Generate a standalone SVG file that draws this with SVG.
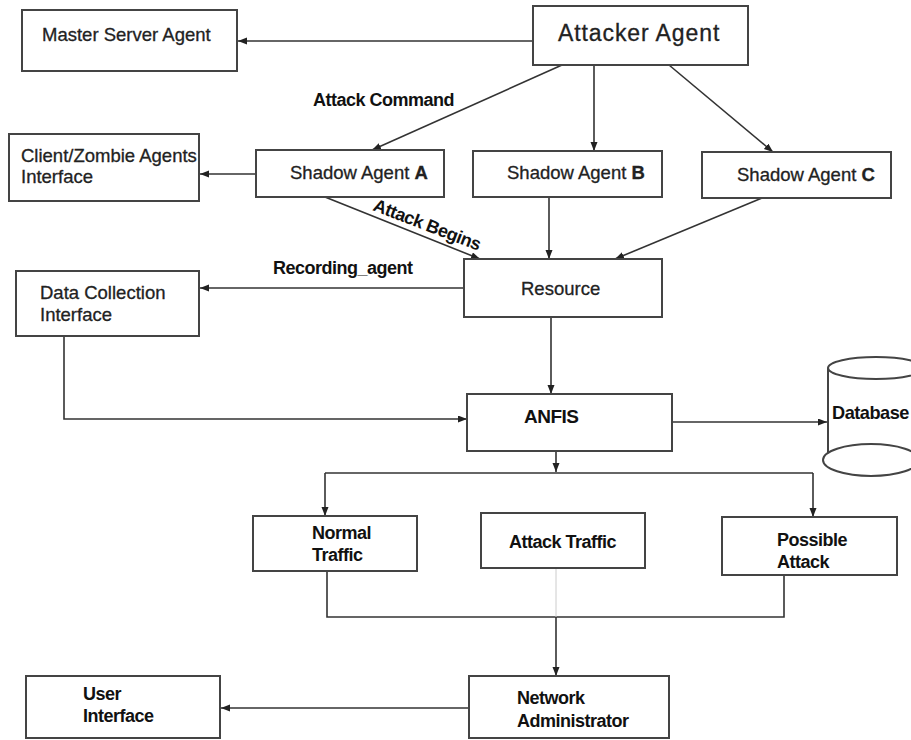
<svg xmlns="http://www.w3.org/2000/svg" width="911" height="740" viewBox="0 0 911 740">
<defs>
<marker id="ah" markerUnits="userSpaceOnUse" markerWidth="10" markerHeight="8" refX="9" refY="3.5" orient="auto">
<path d="M0,0 L9,3.5 L0,7 Z" fill="#222"/>
</marker>
<style>
.box{fill:#fff;stroke:#444;stroke-width:2}
.ln{fill:none;stroke:#333;stroke-width:1.6}
.ar{fill:none;stroke:#333;stroke-width:1.6;marker-end:url(#ah)}
.t{font-family:"Liberation Sans",Arial,sans-serif;font-size:18.5px;fill:#222;stroke:#222;stroke-width:0.3}
.b{font-family:"Liberation Sans",Arial,sans-serif;font-size:18px;font-weight:bold;letter-spacing:-0.5px;fill:#111}
</style>
</defs>
<rect width="911" height="740" fill="#fff"/>

<g id="connectors">
<path class="ar" d="M533,41 H238"/>
<path class="ar" d="M562,65 L372,150"/>
<path class="ar" d="M594,65 V151"/>
<path class="ar" d="M669,65 L773,152"/>
<path class="ar" d="M256,174 H200"/>
<path class="ar" d="M325,197 L480,259"/>
<path class="ar" d="M549,197 V259"/>
<path class="ar" d="M762,198 L615,259"/>
<path class="ar" d="M464,288 H200"/>
<path class="ar" d="M64,336 V419 H467"/>
<path class="ar" d="M551,317 V394"/>
<path class="ar" d="M672,422 H827"/>
<path class="ar" d="M556,451 V472"/>
<path class="ln" d="M325,473 H813"/>
<path class="ar" d="M325,473 V516"/>
<path class="ar" d="M813,473 V517"/>
<path class="ln" d="M327,571 V617 H784 V575"/>
<path d="M556,568 V617" fill="none" stroke="#ccc" stroke-width="1"/>
<path class="ar" d="M556,617 V676"/>
<path class="ar" d="M469,708 H221"/>
<text class="b" x="313" y="106">Attack Command</text>
<text class="b" x="372" y="210" transform="rotate(21 372 210)">Attack Begins</text>
<text class="b" x="273" y="274">Recording_agent</text>
</g>

<g id="master">
<rect class="box" x="22" y="10" width="215" height="61"/>
<text class="t" x="42" y="41">Master Server Agent</text>
</g>
<g id="attacker">
<rect class="box" x="533" y="6" width="215" height="59"/>
<text class="t" x="558" y="41" style="font-size:23px;letter-spacing:0.9px">Attacker Agent</text>
</g>
<g id="client">
<rect class="box" x="9" y="134" width="190" height="67"/>
<text class="t" x="21" y="162">Client/Zombie Agents</text>
<text class="t" x="21" y="183">Interface</text>
</g>
<g id="shadowA">
<rect class="box" x="256" y="150" width="188" height="47"/>
<text class="t" x="290" y="179">Shadow Agent <tspan font-weight="bold">A</tspan></text>
</g>
<g id="shadowB">
<rect class="box" x="473" y="151" width="189" height="46"/>
<text class="t" x="507" y="179">Shadow Agent <tspan font-weight="bold">B</tspan></text>
</g>
<g id="shadowC">
<rect class="box" x="702" y="152" width="189" height="46"/>
<text class="t" x="737" y="181">Shadow Agent <tspan font-weight="bold">C</tspan></text>
</g>
<g id="resource">
<rect class="box" x="464" y="259" width="198" height="58"/>
<text class="t" x="521" y="295">Resource</text>
</g>
<g id="datacollection">
<rect class="box" x="16" y="271" width="183" height="65"/>
<text class="t" x="40" y="299">Data Collection</text>
<text class="t" x="40" y="321">Interface</text>
</g>
<g id="anfis">
<rect class="box" x="467" y="394" width="205" height="57"/>
<text class="b" x="524" y="423" style="font-size:19px">ANFIS</text>
</g>
<g id="database">
<path class="box" d="M828,368 V455"/>
<ellipse class="box" cx="876" cy="368" rx="48" ry="11"/>
<ellipse class="box" cx="871" cy="460" rx="48" ry="16"/>
<text class="b" x="832" y="419" style="font-size:19px" textLength="77" lengthAdjust="spacingAndGlyphs">Database</text>
</g>
<g id="normal">
<rect class="box" x="253" y="516" width="164" height="55"/>
<text class="b" x="312" y="539">Normal</text>
<text class="b" x="312" y="561">Traffic</text>
</g>
<g id="attacktraffic">
<rect class="box" x="481" y="513" width="164" height="55"/>
<text class="b" x="509" y="548">Attack Traffic</text>
</g>
<g id="possible">
<rect class="box" x="722" y="517" width="175" height="58"/>
<text class="b" x="777" y="546">Possible</text>
<text class="b" x="777" y="568">Attack</text>
</g>
<g id="netadmin">
<rect class="box" x="469" y="676" width="200" height="62"/>
<text class="b" x="517" y="704">Network</text>
<text class="b" x="517" y="727">Administrator</text>
</g>
<g id="user">
<rect class="box" x="26" y="676" width="194" height="62"/>
<text class="b" x="83" y="700">User</text>
<text class="b" x="83" y="722">Interface</text>
</g>
</svg>
